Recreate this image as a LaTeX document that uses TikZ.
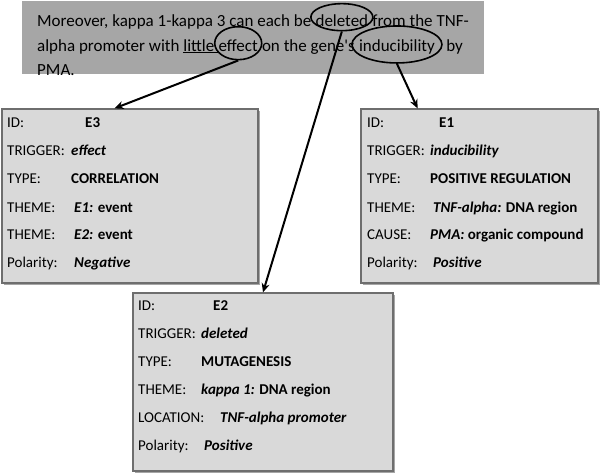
\documentclass[tikz,border=0pt]{standalone}
\usepackage{fontspec}
\setmainfont{Carlito}
\usetikzlibrary{shapes.geometric,arrows.meta,calc,shadows}
\definecolor{topgrey}{RGB}{166,166,166}
\definecolor{boxfill}{RGB}{217,217,217}
\definecolor{boxline}{RGB}{110,110,110}
\begin{document}
\begin{tikzpicture}[x=1pt,y=-1pt,
 toptxt/.style={anchor=base west,inner sep=0pt,font=\fontsize{17}{20}\selectfont},
 lbl/.style={anchor=base west,inner sep=0pt,font=\fontsize{15}{18}\selectfont},
 evbox/.style={draw=boxline,fill=boxfill,line width=1.3pt,inner sep=0pt,
   drop shadow={shadow xshift=1.5pt,shadow yshift=-1.5pt,fill=black!35,opacity=1}},
 ring/.style={ellipse,draw=black,line width=1.6pt,inner sep=0pt},
 ptr/.style={-{Stealth[length=9pt,width=8pt]},line width=2pt}]
\useasboundingbox (0,0) rectangle (600,474);
% sentence box
\node[fill=topgrey,inner sep=0pt,minimum width=462pt,minimum height=73pt,anchor=north west] (sentence) at (22,1) {};
\node[toptxt] (l1a) at (37,26) {Moreover, kappa 1-kappa 3 can each be\ \hbox{}};
\node[toptxt] (del) at (l1a.base east) {deleted};
\node[toptxt] (l1c) at (del.base east) {\hbox{}\ from the TNF-};
\node[toptxt] (l2a) at (37,51) {alpha promoter with \underline{little\ }};
\node[toptxt] (eff) at (l2a.base east) {effect};
\node[toptxt] (l2c) at (eff.base east) {\hbox{}\ on the gene\textquotesingle s\ \hbox{}};
\node[toptxt] (ind) at (l2c.base east) {inducibility};
\node[toptxt] (l2e) at (ind.base east) {\hbox{}\hspace{11pt}by};
\node[toptxt] (l3) at (37,75) {PMA.};
% rings
\node[ring,minimum width=62pt,minimum height=27pt] (delE) at ($(del.center)+(0,-3)$) {};
\node[ring,minimum width=47pt,minimum height=33pt] (effE) at ($(eff.center)+(0,-2)$) {};
\node[ring,minimum width=90pt,minimum height=37pt] (indE) at ($(ind.center)+(0,-2)$) {};
% event boxes
\node[evbox,minimum width=256pt,minimum height=174pt] (e3) at (130,196) {};
\node[evbox,minimum width=237pt,minimum height=174pt] (e1) at (479.5,196) {};
\node[evbox,minimum width=260pt,minimum height=178pt] (e2) at (263,382) {};
% E3 rows
\node[lbl] (e3a) at (7,127) {ID:};
\node[lbl] (e3av) at (85,127) {\textbf{E3}};
\node[lbl] (e3b) at (7,155) {TRIGGER:};
\node[lbl] (e3bv) at (71,155) {\textbf{\textit{effect}}};
\node[lbl] (e3c) at (7,183) {TYPE:};
\node[lbl] (e3cv) at (71,183) {\textbf{CORRELATION}};
\node[lbl] (e3d) at (7,212) {THEME:};
\node[lbl] (e3dv) at (74,212) {\textbf{\textit{E1:} event}};
\node[lbl] (e3e) at (7,239) {THEME:};
\node[lbl] (e3ev) at (74,239) {\textbf{\textit{E2:} event}};
\node[lbl] (e3f) at (7,267) {Polarity:};
\node[lbl] (e3fv) at (74,267) {\textbf{\textit{Negative}}};
% E1 rows
\node[lbl] (e1a) at (367,127) {ID:};
\node[lbl] (e1av) at (439,127) {\textbf{E1}};
\node[lbl] (e1b) at (367,155) {TRIGGER:};
\node[lbl] (e1bv) at (430,155) {\textbf{\textit{inducibility}}};
\node[lbl] (e1c) at (367,183) {TYPE:};
\node[lbl] (e1cv) at (430,183) {\textbf{POSITIVE REGULATION}};
\node[lbl] (e1d) at (367,212) {THEME:};
\node[lbl] (e1dv) at (433,212) {\textbf{\textit{TNF-alpha:} DNA region}};
\node[lbl] (e1e) at (367,239) {CAUSE:};
\node[lbl] (e1ev) at (430,239) {\textbf{\textit{PMA:} organic compound}};
\node[lbl] (e1f) at (367,267) {Polarity:};
\node[lbl] (e1fv) at (433,267) {\textbf{\textit{Positive}}};
% E2 rows
\node[lbl] (e2a) at (138,310) {ID:};
\node[lbl] (e2av) at (213,310) {\textbf{E2}};
\node[lbl] (e2b) at (138,338) {TRIGGER:};
\node[lbl] (e2bv) at (201,338) {\textbf{\textit{deleted}}};
\node[lbl] (e2c) at (138,366) {TYPE:};
\node[lbl] (e2cv) at (201,366) {\textbf{MUTAGENESIS}};
\node[lbl] (e2d) at (138,394) {THEME:};
\node[lbl] (e2dv) at (201,394) {\textbf{\textit{kappa 1:} DNA region}};
\node[lbl] (e2e) at (138,422) {LOCATION:};
\node[lbl] (e2ev) at (220,422) {\textbf{\textit{TNF-alpha promoter}}};
\node[lbl] (e2f) at (138,450) {Polarity:};
\node[lbl] (e2fv) at (204,450) {\textbf{\textit{Positive}}};
% arrows
\draw[ptr] (effE.south) -- ($(e3.north west)!0.44!(e3.north east)$);
\draw[ptr] (delE.south) -- (e2.north);
\draw[ptr] (indE.south) -- ($(e1.north west)!0.24!(e1.north east)$);
\end{tikzpicture}
\end{document}
